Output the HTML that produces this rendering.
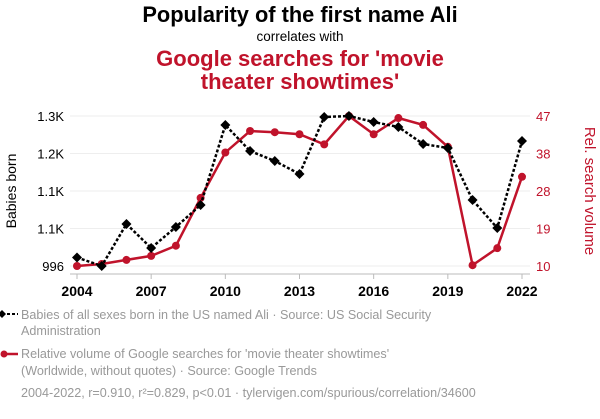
<!DOCTYPE html>
<html><head><meta charset="utf-8"><style>
body{margin:0;background:#fff;width:600px;height:414px;overflow:hidden;font-family:"Liberation Sans",sans-serif}
svg text{font-family:"Liberation Sans",sans-serif}
</style></head><body>
<svg id="c" width="600" height="414">
<text x="300" y="22" text-anchor="middle" font-size="21.8" font-weight="bold" fill="#000">Popularity of the first name Ali</text>
<text x="300" y="41" text-anchor="middle" font-size="13.5" fill="#000">correlates with</text>
<text x="300" y="66" text-anchor="middle" font-size="22" font-weight="bold" fill="#c0132b">Google searches for 'movie</text>
<text x="300" y="89" text-anchor="middle" font-size="22" font-weight="bold" fill="#c0132b">theater showtimes'</text>
<g id="grid"></g><g id="axes"></g><g id="series"></g>
<text transform="translate(16,191) rotate(-90)" text-anchor="middle" font-size="14" fill="#000">Babies born</text>
<text transform="translate(585,191) rotate(90)" text-anchor="middle" font-size="15" fill="#c0132b">Rel. search volume</text>
<g>
<line x1="2" y1="314" x2="18" y2="314" stroke="#000" stroke-width="2" stroke-dasharray="3,2"/>
<path d="M2,310 L6,314 L2,318 L-2,314Z" fill="#000"/>
<text x="21" y="319" font-size="12.6" fill="#999">Babies of all sexes born in the US named Ali · Source: US Social Security</text>
<text x="21" y="335" font-size="12.6" fill="#999">Administration</text>
</g>
<g>
<line x1="2" y1="354" x2="18" y2="354" stroke="#c0132b" stroke-width="2.5"/>
<circle cx="4" cy="354" r="3.5" fill="#c0132b"/>
<text x="21" y="358" font-size="12.6" fill="#999">Relative volume of Google searches for 'movie theater showtimes'</text>
<text x="21" y="375" font-size="12.6" fill="#999">(Worldwide, without quotes) · Source: Google Trends</text>
</g>
<text x="21" y="397" font-size="12.6" fill="#999">2004-2022, r=0.910, r²=0.829, p&lt;0.01 · tylervigen.com/spurious/correlation/34600</text>
</svg>
<script>
const years=[2004,2005,2006,2007,2008,2009,2010,2011,2012,2013,2014,2015,2016,2017,2018,2019,2020,2021,2022];
const babies=[1013,996,1080,1032,1074,1118,1278,1226,1206,1180,1294,1296,1284,1274,1240,1232,1128,1072,1246];
const searches=[10,10.5,11.5,12.5,15,26.8,38,43.3,43,42.5,40,47,42.5,46.5,44.8,39.4,10.2,14.4,32];
const leftTicks=[996,1071,1146,1221,1296];
const leftLabels=['996','1.1K','1.1K','1.2K','1.3K'];
const rightTicks=[10,19.25,28.5,37.75,47];
const rightLabels=['10','19','28','38','47'];
const xTicks=[2004,2007,2010,2013,2016,2019,2022];
const NS='http://www.w3.org/2000/svg';
const X=v=>77+(v-2004)*(522-77)/18;
const YL=v=>266-(v-996)*150/300;
const YR=v=>266-(v-10)*150/37;
function mk(p,t,a){const e=document.createElementNS(NS,t);for(const k in a)e.setAttribute(k,a[k]);p.appendChild(e);return e;}
const grid=document.getElementById('grid'),axes=document.getElementById('axes'),ser=document.getElementById('series');
leftTicks.forEach((t,i)=>{
 const g=mk(grid,'line',{x1:70,x2:530,y1:YL(t),y2:YL(t),stroke:'#eee','stroke-width':1});
 
 
 const l=mk(axes,'text',{x:64,y:YL(t)+5,'text-anchor':'end','font-size':13,fill:'#000'});l.textContent=leftLabels[i];
 
 
});
rightTicks.forEach((t,i)=>{
 const l=mk(axes,'text',{x:536,y:YR(t)+5,'font-size':13,fill:'#c0132b'});l.textContent=rightLabels[i];
 
 
});
mk(axes,'line',{x1:70,x2:530,y1:274,y2:274,stroke:'#bbb','stroke-width':1});
xTicks.forEach(t=>{
 mk(axes,'line',{x1:X(t),x2:X(t),y1:274,y2:279,stroke:'#bbb'});
 const l=mk(axes,'text',{x:X(t),y:296,'text-anchor':'middle','font-size':14,'font-weight':'bold',fill:'#000'});l.textContent=t;
 
 
});
const rp=mk(ser,'polyline',{points:years.map((y,i)=>X(y)+','+YR(searches[i])).join(' '),fill:'none',stroke:'#c0132b','stroke-width':2.5});


years.forEach((y,i)=>{const c=mk(ser,'circle',{cx:X(y),cy:YR(searches[i]),r:4,fill:'#c0132b'});
 
 });
const bp=mk(ser,'polyline',{points:years.map((y,i)=>X(y)+','+YL(babies[i])).join(' '),fill:'none',stroke:'#000','stroke-width':2.5,'stroke-dasharray':'3,2'});


years.forEach((y,i)=>{const x=X(y),yy=YL(babies[i]);const d=mk(ser,'path',{d:`M${x},${yy-5}L${x+5},${yy}L${x},${yy+5}L${x-5},${yy}Z`,fill:'#000'});
 
 });
</script>
</body></html>
